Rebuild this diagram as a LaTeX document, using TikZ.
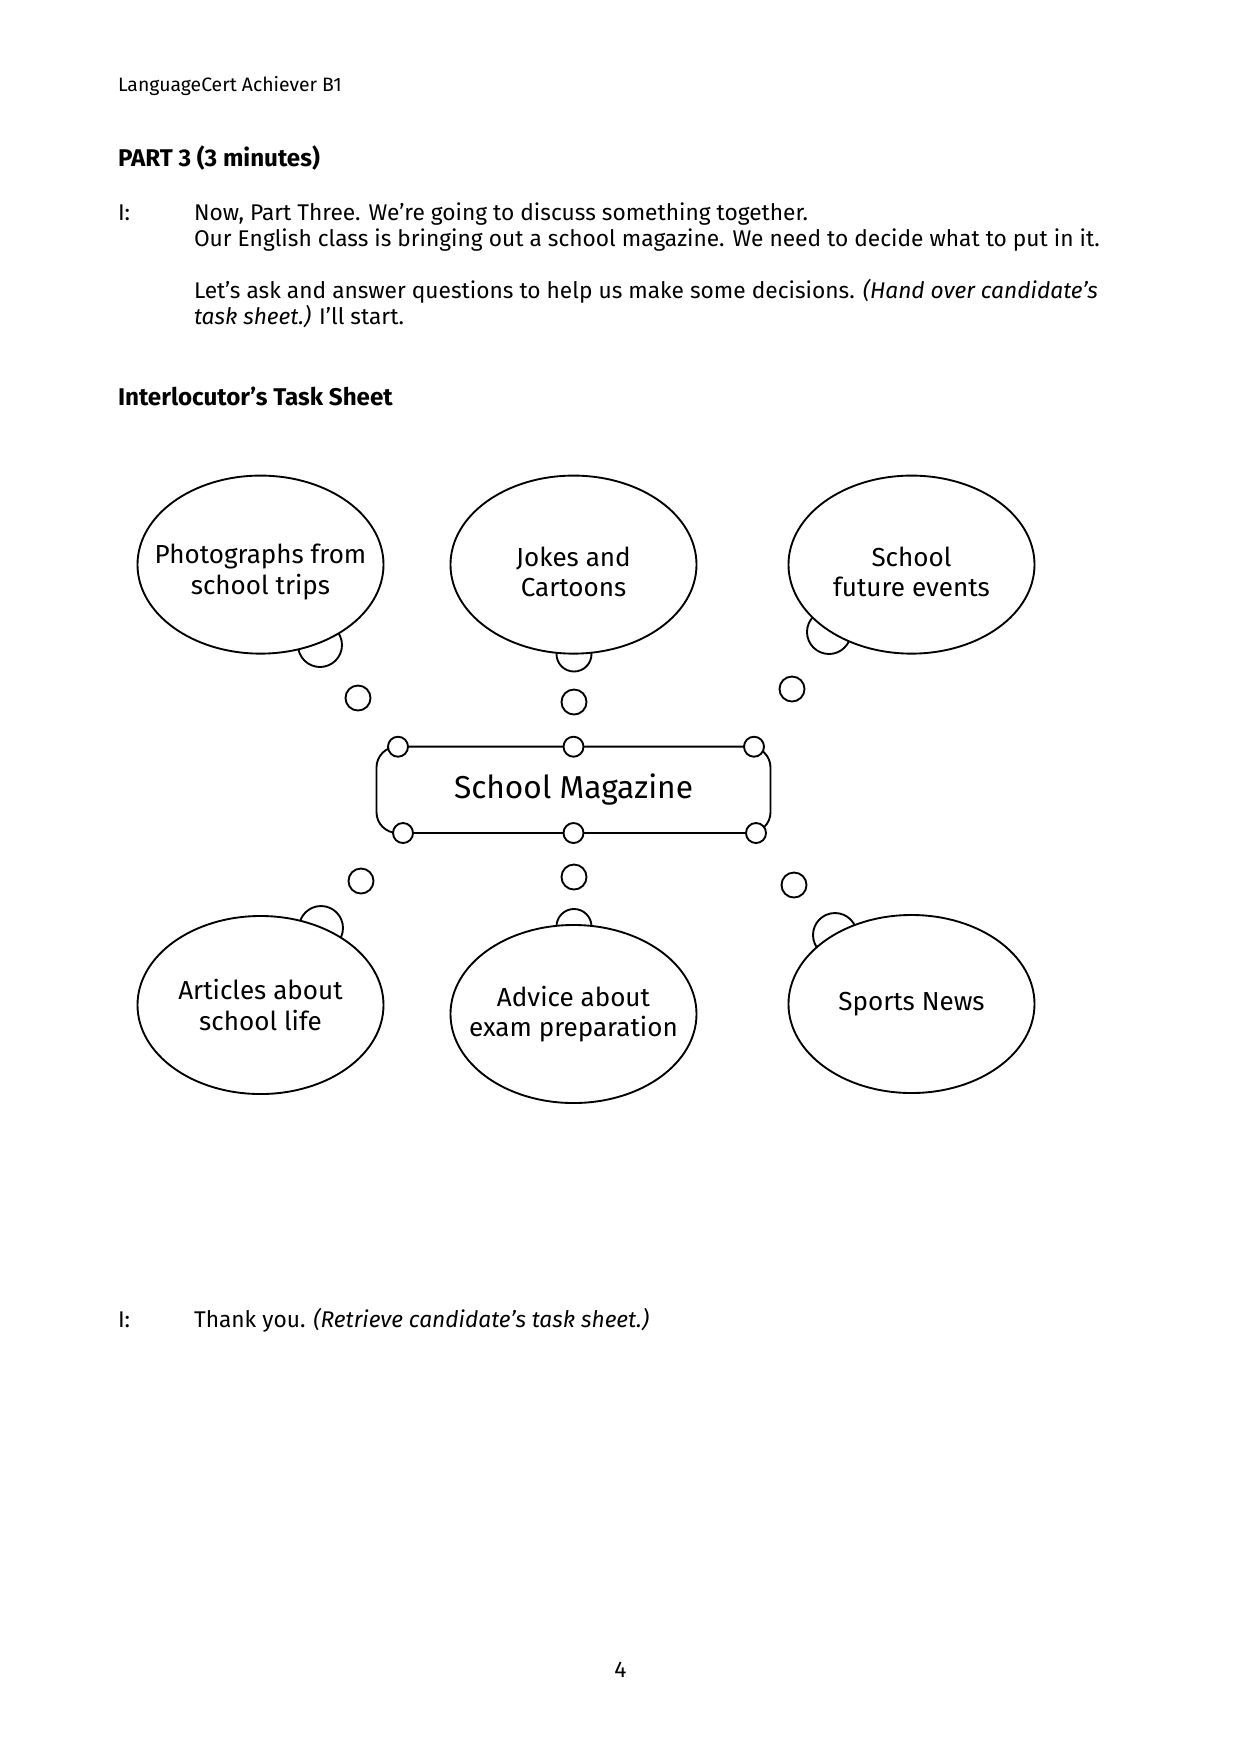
\documentclass[tikz,border=0pt]{standalone}
\usepackage{fontspec}
\setmainfont{Fira Sans}
\usetikzlibrary{shapes.geometric, positioning, calc}
\tikzset{
  txt/.style={anchor=base west, inner sep=0pt, outer sep=0pt, font=\fontsize{10.9}{12.8}\selectfont},
  head/.style={txt, font=\fontsize{9.3}{11}\selectfont},
  bhead/.style={txt, font=\fontsize{11.6}{13}\selectfont\bfseries},
  bubble/.style={draw, ellipse, fill=white, line width=0.9pt, minimum width=118pt, minimum height=85.4pt, inner sep=-16pt, align=center, font=\fontsize{12.5}{14.5}\selectfont},
  toprow/.style={bubble, text height=31pt},
  puff/.style={draw, circle, fill=white, line width=0.9pt, inner sep=0pt, minimum size=21.1pt},
  smallpuff/.style={puff, minimum size=16.8pt},
  dot/.style={puff, minimum size=12pt},
  knob/.style={puff, minimum size=9.6pt},
  magbox/.style={draw, rectangle, rounded corners=10pt, line width=0.9pt, minimum width=189pt, minimum height=41.4pt, inner sep=0pt, font=\fontsize{15.2}{17}\selectfont}
}

\begin{document}
\begin{tikzpicture}[x=0.47968pt, y=-0.47968pt]
  \useasboundingbox (0,0) rectangle (1241,1755);

  % page text
  \node[head] (header) at (118,91) {LanguageCert Achiever B1};
  \node[bhead] (part) at (118,166) {PART 3 (3 minutes)};
  \node[txt] (i1) at (118,220) {I:};
  \node[txt] (l1) at (194,220) {Now, Part Three. We’re going to discuss something together.};
  \node[txt] (l2) at (194,246.5) {Our English class is bringing out a school magazine. We need to decide what to put in it.};
  \node[txt] (l3) at (194,298) {Let’s ask and answer questions to help us make some decisions. \textit{(Hand over candidate’s}};
  \node[txt] (l4) at (194,324) {\textit{task sheet.)} I’ll start.};
  \node[bhead] (sheet) at (118,405) {Interlocutor’s Task Sheet};

  % puffs behind the bubbles
  \node[puff] (photos-puff) at (320,645) {};
  \node[smallpuff] (jokes-puff) at (574,654) {};
  \node[puff] (events-puff) at (829,632) {};
  \node[puff] (articles-puff) at (321,928) {};
  \node[smallpuff] (advice-puff) at (574,926.5) {};
  \node[puff] (sports-puff) at (835,935) {};

  % bubbles
  \node[toprow] (photos) at (260.5,564.6) {Photographs from\\school trips};
  \node[toprow] (jokes) at (573.5,564.6) {Jokes and\\Cartoons};
  \node[toprow] (events) at (911.5,564.6) {School\\future events};
  \node[bubble] (articles) at (260.5,1005) {Articles about\\school life};
  \node[bubble] (advice) at (573.5,1014) {Advice about\\exam preparation};
  \node[bubble] (sports) at (911.5,1004) {Sports News};

  % small dots
  \node[dot] (photos-dot) at (358,698) {};
  \node[dot] (jokes-dot) at (574,702) {};
  \node[dot] (events-dot) at (792,689) {};
  \node[dot] (articles-dot) at (361,881) {};
  \node[dot] (advice-dot) at (574,877) {};
  \node[dot] (sports-dot) at (794,885) {};

  % centre box
  \node[magbox] (magazine) at (573.5,789.8) {School Magazine};
  \node[knob] (mag-nw) at (398,746.7) {};
  \node[knob] (mag-n) at (573.5,746.7) {};
  \node[knob] (mag-ne) at (754,746.7) {};
  \node[knob] (mag-sw) at (403,833) {};
  \node[knob] (mag-s) at (573.5,833) {};
  \node[knob] (mag-se) at (756,833) {};

  \node[txt] (i2) at (118,1327) {I:};
  \node[txt] (thanks) at (194,1327) {Thank you. \textit{(Retrieve candidate’s task sheet.)}};
  \node[txt, anchor=base] (page) at (620.5,1677) {4};
\end{tikzpicture}
\end{document}
